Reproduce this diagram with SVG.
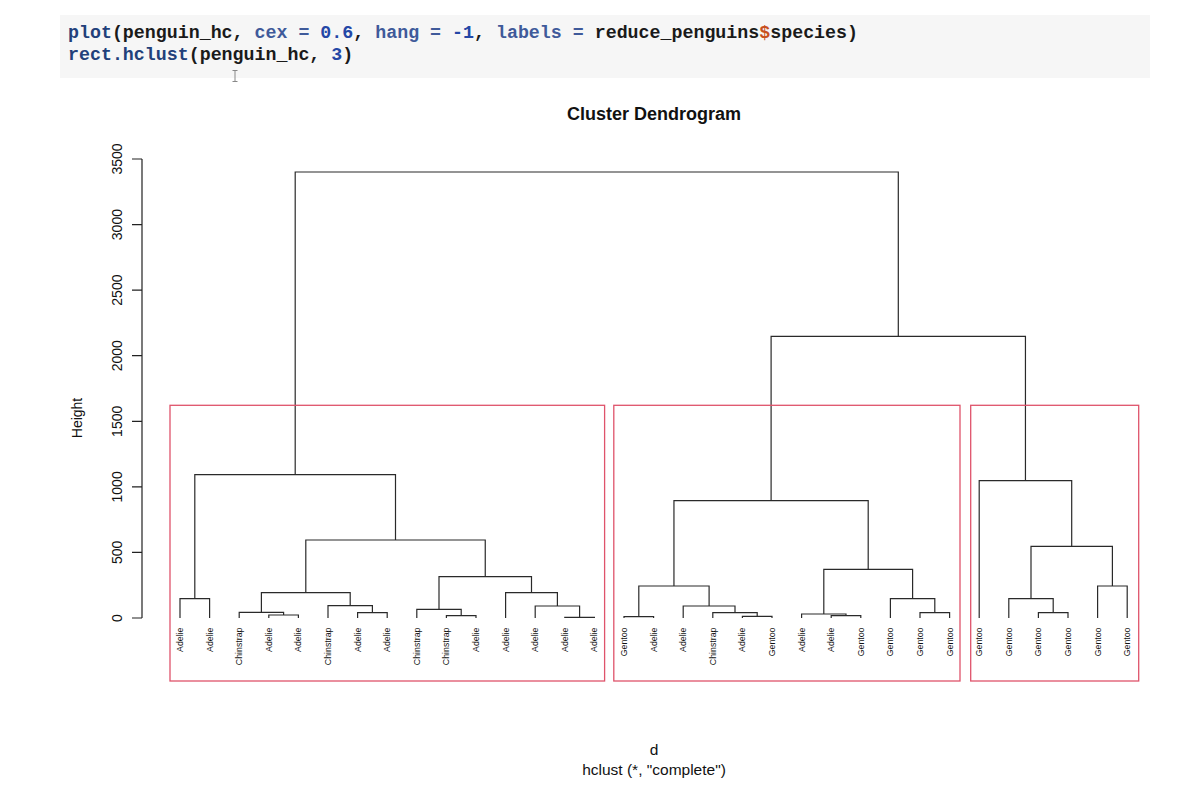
<svg xmlns="http://www.w3.org/2000/svg" width="1185" height="806" viewBox="0 0 1185 806">
<style>
.code{font-family:"Liberation Mono","DejaVu Sans Mono",monospace;font-size:18.3px;font-weight:bold;fill:#1a1a1a}
.fn{fill:#22407a}
.kw{fill:#3f5a9a}
.num{fill:#2447a6}
.dol{fill:#c8501e}
.lbl{font-family:"Liberation Sans",Arial,sans-serif;font-size:8.8px;fill:#111}
.ax{font-family:"Liberation Sans",Arial,sans-serif;font-size:14px;fill:#111}
.tree{fill:none;stroke:#2a2a2a;stroke-width:1.2}
.rc{fill:none;stroke:#DF536B;stroke-width:1.3}
</style>
<rect x="0" y="0" width="1185" height="806" fill="#ffffff"/>
<g id="code">
<rect x="60" y="15" width="1090" height="63" fill="#f6f6f6"/>
<text class="code" x="68" y="38" xml:space="preserve"><tspan class="fn">plot</tspan>(penguin_hc, <tspan class="kw">cex =</tspan> <tspan class="num">0.6</tspan>, <tspan class="kw">hang =</tspan> <tspan class="num">-1</tspan>, <tspan class="kw">labels =</tspan> reduce_penguins<tspan class="dol">$</tspan>species)</text>
<text class="code" x="68" y="60" xml:space="preserve"><tspan class="fn">rect.hclust</tspan>(penguin_hc, <tspan class="num">3</tspan>)</text>
<path d="M232.5 70.5 H237.5 M235 70.5 V81.5 M232.5 81.5 H237.5" stroke="#888" stroke-width="1" fill="none"/>
</g>
<g id="title">
<text x="654" y="119.5" text-anchor="middle" font-family="'Liberation Sans',Arial,sans-serif" font-size="18" font-weight="bold" fill="#111">Cluster Dendrogram</text>
</g>
<g id="axis">
<path d="M142 159 V618 M132 159 H142 M132 224.6 H142 M132 290.1 H142 M132 355.7 H142 M132 421.3 H142 M132 486.9 H142 M132 552.4 H142 M132 618 H142" stroke="#222" stroke-width="1.2" fill="none"/>
<g class="ax" text-anchor="middle">
<text transform="translate(117,618) rotate(-90)" dy="0.35em">0</text>
<text transform="translate(117,552.4) rotate(-90)" dy="0.35em">500</text>
<text transform="translate(117,486.9) rotate(-90)" dy="0.35em">1000</text>
<text transform="translate(117,421.3) rotate(-90)" dy="0.35em">1500</text>
<text transform="translate(117,355.7) rotate(-90)" dy="0.35em">2000</text>
<text transform="translate(117,290.1) rotate(-90)" dy="0.35em">2500</text>
<text transform="translate(117,224.6) rotate(-90)" dy="0.35em">3000</text>
<text transform="translate(117,159) rotate(-90)" dy="0.35em">3500</text>
<text transform="translate(77,418) rotate(-90)" dy="0.35em">Height</text>
</g>
</g>
<g id="xlab" class="ax" text-anchor="middle" style="font-size:15.5px">
<text x="654" y="755">d</text>
<text x="654" y="775">hclust (*, "complete")</text>
</g>
<g id="connectors" class="tree">
<path d="M180 618 V598.7 H209.6 V618"/>
<path d="M268.8 618 V615 H298.4 V618"/>
<path d="M239.2 618 V612.3 H283.6 V615"/>
<path d="M357.6 618 V612.7 H387.2 V618"/>
<path d="M328 618 V605.7 H372.4 V612.7"/>
<path d="M261.4 612.3 V592.7 H350.2 V605.7"/>
<path d="M446.4 618 V615.7 H476 V618"/>
<path d="M416.8 618 V609.3 H461.2 V615.7"/>
<path d="M564.8 618 V617.3 H594.4 V618"/>
<path d="M535.2 618 V606 H579.6 V617.3"/>
<path d="M505.6 618 V592.7 H557.4 V606"/>
<path d="M439 609.3 V576.7 H531.5 V592.7"/>
<path d="M305.8 592.7 V540 H485.25 V576.7"/>
<path d="M194.8 598.7 V474.7 H395.5 V540"/>
<path d="M624 618 V616.7 H653.6 V618"/>
<path d="M742.4 618 V616.3 H772 V618"/>
<path d="M712.8 618 V612.7 H757.2 V616.3"/>
<path d="M683.2 618 V606 H735 V612.7"/>
<path d="M638.8 616.7 V586 H709.1 V606"/>
<path d="M831.2 618 V615.7 H860.8 V618"/>
<path d="M801.6 618 V614 H846 V615.7"/>
<path d="M920 618 V612.7 H949.6 V618"/>
<path d="M890.4 618 V598.7 H934.8 V612.7"/>
<path d="M823.8 614 V569.3 H912.6 V598.7"/>
<path d="M673.95 586 V500.7 H868.2 V569.3"/>
<path d="M1038.4 618 V612.7 H1068 V618"/>
<path d="M1008.8 618 V598.7 H1053.2 V612.7"/>
<path d="M1097.6 618 V586 H1127.2 V618"/>
<path d="M1031 598.7 V546.3 H1112.4 V586"/>
<path d="M979.2 618 V480.7 H1071.7 V546.3"/>
<path d="M771.1 500.7 V336.3 H1025.45 V480.7"/>
<path d="M295.2 474.7 V172 H898.3 V336.3"/>
</g>
<g id="clusters">
<rect id="cluster-1" class="rc" x="170" y="405.3" width="434.6" height="275.7"/>
<rect id="cluster-2" class="rc" x="613.8" y="405.3" width="346.2" height="275.7"/>
<rect id="cluster-3" class="rc" x="970.7" y="405.3" width="168" height="275.7"/>
</g>
<g id="leaves" class="lbl" text-anchor="end">
<g id="leaf-0"><text transform="translate(180,627.5) rotate(-90)" dy="0.35em">Adelie</text></g>
<g id="leaf-1"><text transform="translate(209.6,627.5) rotate(-90)" dy="0.35em">Adelie</text></g>
<g id="leaf-2"><text transform="translate(239.2,627.5) rotate(-90)" dy="0.35em">Chinstrap</text></g>
<g id="leaf-3"><text transform="translate(268.8,627.5) rotate(-90)" dy="0.35em">Adelie</text></g>
<g id="leaf-4"><text transform="translate(298.4,627.5) rotate(-90)" dy="0.35em">Adelie</text></g>
<g id="leaf-5"><text transform="translate(328,627.5) rotate(-90)" dy="0.35em">Chinstrap</text></g>
<g id="leaf-6"><text transform="translate(357.6,627.5) rotate(-90)" dy="0.35em">Adelie</text></g>
<g id="leaf-7"><text transform="translate(387.2,627.5) rotate(-90)" dy="0.35em">Adelie</text></g>
<g id="leaf-8"><text transform="translate(416.8,627.5) rotate(-90)" dy="0.35em">Chinstrap</text></g>
<g id="leaf-9"><text transform="translate(446.4,627.5) rotate(-90)" dy="0.35em">Chinstrap</text></g>
<g id="leaf-10"><text transform="translate(476,627.5) rotate(-90)" dy="0.35em">Adelie</text></g>
<g id="leaf-11"><text transform="translate(505.6,627.5) rotate(-90)" dy="0.35em">Adelie</text></g>
<g id="leaf-12"><text transform="translate(535.2,627.5) rotate(-90)" dy="0.35em">Adelie</text></g>
<g id="leaf-13"><text transform="translate(564.8,627.5) rotate(-90)" dy="0.35em">Adelie</text></g>
<g id="leaf-14"><text transform="translate(594.4,627.5) rotate(-90)" dy="0.35em">Adelie</text></g>
<g id="leaf-15"><text transform="translate(624,627.5) rotate(-90)" dy="0.35em">Gentoo</text></g>
<g id="leaf-16"><text transform="translate(653.6,627.5) rotate(-90)" dy="0.35em">Adelie</text></g>
<g id="leaf-17"><text transform="translate(683.2,627.5) rotate(-90)" dy="0.35em">Adelie</text></g>
<g id="leaf-18"><text transform="translate(712.8,627.5) rotate(-90)" dy="0.35em">Chinstrap</text></g>
<g id="leaf-19"><text transform="translate(742.4,627.5) rotate(-90)" dy="0.35em">Adelie</text></g>
<g id="leaf-20"><text transform="translate(772,627.5) rotate(-90)" dy="0.35em">Gentoo</text></g>
<g id="leaf-21"><text transform="translate(801.6,627.5) rotate(-90)" dy="0.35em">Adelie</text></g>
<g id="leaf-22"><text transform="translate(831.2,627.5) rotate(-90)" dy="0.35em">Adelie</text></g>
<g id="leaf-23"><text transform="translate(860.8,627.5) rotate(-90)" dy="0.35em">Gentoo</text></g>
<g id="leaf-24"><text transform="translate(890.4,627.5) rotate(-90)" dy="0.35em">Gentoo</text></g>
<g id="leaf-25"><text transform="translate(920,627.5) rotate(-90)" dy="0.35em">Gentoo</text></g>
<g id="leaf-26"><text transform="translate(949.6,627.5) rotate(-90)" dy="0.35em">Gentoo</text></g>
<g id="leaf-27"><text transform="translate(979.2,627.5) rotate(-90)" dy="0.35em">Gentoo</text></g>
<g id="leaf-28"><text transform="translate(1008.8,627.5) rotate(-90)" dy="0.35em">Gentoo</text></g>
<g id="leaf-29"><text transform="translate(1038.4,627.5) rotate(-90)" dy="0.35em">Gentoo</text></g>
<g id="leaf-30"><text transform="translate(1068,627.5) rotate(-90)" dy="0.35em">Gentoo</text></g>
<g id="leaf-31"><text transform="translate(1097.6,627.5) rotate(-90)" dy="0.35em">Gentoo</text></g>
<g id="leaf-32"><text transform="translate(1127.2,627.5) rotate(-90)" dy="0.35em">Gentoo</text></g>
</g>
</svg>
